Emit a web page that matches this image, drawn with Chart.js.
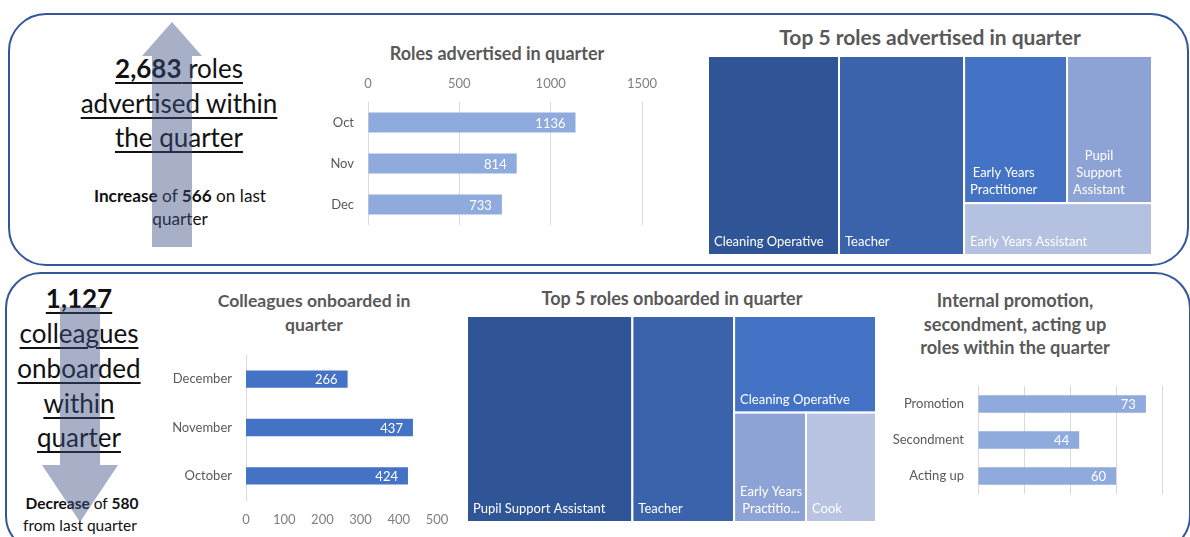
<!DOCTYPE html>
<html>
<head>
<meta charset="utf-8">
<script src="https://cdn.jsdelivr.net/npm/chart.js@4.4.1/dist/chart.umd.min.js"></script>
<style>
  html, body { margin: 0; padding: 0; background: #ffffff; }
  #page { position: relative; width: 1190px; height: 537px; overflow: hidden; font-family: 'Lato', 'Open Sans', sans-serif; }
  .panel { position: absolute; border: 2px solid #34579C; box-sizing: border-box; }
  .t { position: absolute; transform: translate(-50%, -50%); white-space: nowrap; color: #111; }
  .big { font-size: 26px; text-decoration: underline; text-decoration-thickness: 2px; text-underline-offset: 4px; }
  .ttl { font-weight: bold; color: #595959; }
  .box { position: absolute; }
  svg { position: absolute; left: 0; top: 0; }
</style>
</head>
<body>
<div id="page">
  <div class="panel" style="left:8px;top:13px;width:1181px;height:253px;border-radius:38px;"></div>
  <div class="panel" style="left:5px;top:272px;width:1186px;height:280px;border-radius:36px;"></div>

  <!-- top-left KPI -->
  <div class="t big" style="left:179px;top:68px;"><b>2,683</b> roles</div>
  <div class="t big" style="left:179px;top:103px;">advertised within</div>
  <div class="t big" style="left:179px;top:137px;">the quarter</div>
  <div class="t" style="left:180px;top:195px;font-size:17.2px;"><b>Increase</b> of <b>566</b> on last</div>
  <div class="t" style="left:180px;top:218px;font-size:17.2px;">quarter</div>

  <!-- bottom-left KPI -->
  <div class="t big" style="left:79px;top:298px;"><b>1,127</b></div>
  <div class="t big" style="left:79px;top:333px;">colleagues</div>
  <div class="t big" style="left:79px;top:368px;">onboarded</div>
  <div class="t big" style="left:79px;top:403px;">within</div>
  <div class="t big" style="left:79px;top:437px;">quarter</div>
  <div class="t" style="left:82px;top:503px;font-size:15.5px;"><b>Decrease</b> of <b>580</b></div>
  <div class="t" style="left:80px;top:525px;font-size:15.5px;">from last quarter</div>

  <!-- arrows (semi-transparent, over text) -->
  <svg width="1190" height="537">
    <polygon points="172,22 202,56 192,56 192,247 152,247 152,56 142,56" fill="rgba(60,80,130,0.45)"/>
    <polygon points="60,307 100,307 100,465 118,465 80,522 42,465 60,465" fill="rgba(60,80,130,0.45)"/>
  </svg>

  <!-- titles -->
  <div class="t ttl" style="left:497px;top:53px;font-size:18px;">Roles advertised in quarter</div>
  <div class="t ttl" style="left:930px;top:36px;font-size:21px;">Top 5 roles advertised in quarter</div>
  <div class="t ttl" style="left:314px;top:300px;font-size:17.6px;">Colleagues onboarded in</div>
  <div class="t ttl" style="left:314px;top:324px;font-size:17.6px;">quarter</div>
  <div class="t ttl" style="left:672px;top:298px;font-size:18px;">Top 5 roles onboarded in quarter</div>
  <div class="t ttl" style="left:1015px;top:300px;font-size:18.2px;">Internal promotion,</div>
  <div class="t ttl" style="left:1015px;top:324px;font-size:18.2px;">secondment, acting up</div>
  <div class="t ttl" style="left:1015px;top:347px;font-size:18.2px;">roles within the quarter</div>

  <div class="box" style="left:320px;top:70px;width:354px;height:160px;"><canvas id="c1"></canvas></div>
  <div class="box" style="left:706px;top:54px;width:448px;height:203px;"><canvas id="c2"></canvas></div>
  <div class="box" style="left:160px;top:345px;width:290px;height:192px;"><canvas id="c3"></canvas></div>
  <div class="box" style="left:465px;top:314px;width:413px;height:210px;"><canvas id="c4"></canvas></div>
  <div class="box" style="left:880px;top:376px;width:300px;height:129px;"><canvas id="c5"></canvas></div>
</div>

<script>
// ---- data ----
const advMonths = ['Oct', 'Nov', 'Dec'];
const advValues = [1136, 814, 733];
const advTicks = [0, 500, 1000, 1500];

const onbMonths = ['December', 'November', 'October'];
const onbValues = [266, 437, 424];
const onbTicks = [0, 100, 200, 300, 400, 500];

const intCats = ['Promotion', 'Secondment', 'Acting up'];
const intValues = [73, 44, 60];
const intTicks = [0, 20, 40, 60, 80];

const advRoles = ['Cleaning Operative', 'Teacher', 'Early Years Practitioner', 'Pupil Support Assistant', 'Early Years Assistant'];
const advRoleCounts = [265, 253, 154, 127, 99];
const advRoleColors = ['#2F5597', '#3A63AC', '#4472C4', '#8EA3D5', '#B5C1E1'];

const onbRoles = ['Pupil Support Assistant', 'Teacher', 'Cleaning Operative', 'Early Years Practitioner', 'Cook'];
const onbRoleCounts = [169, 104, 68, 39, 38];
const onbRoleColors = ['#2F5597', '#3A63AC', '#4472C4', '#8EA3D5', '#B9C3E2'];

const FONT = "'Lato', 'Open Sans', sans-serif";
Chart.defaults.font.family = FONT;
Chart.defaults.animation = false;

// value labels inside bar ends
const valueLabels = {
  id: 'valueLabels',
  afterDatasetsDraw(chart) {
    const ctx = chart.ctx;
    const meta = chart.getDatasetMeta(0);
    const data = chart.data.datasets[0].data;
    ctx.save();
    ctx.fillStyle = '#ffffff';
    ctx.font = '13px ' + FONT;
    ctx.textAlign = 'right';
    ctx.textBaseline = 'middle';
    meta.data.forEach((bar, i) => {
      ctx.fillText(String(data[i]), bar.x - 10, bar.y + 1);
    });
    ctx.restore();
  }
};

function noPad(s) { s.paddingTop = 0; s.paddingBottom = 0; s.paddingLeft = 0; s.paddingRight = 0; }

function hbar(id, labels, values, ticks, color, barPct, opts) {
  return new Chart(document.getElementById(id), {
    type: 'bar',
    data: { labels: labels, datasets: [{ data: values, backgroundColor: color, barPercentage: barPct, categoryPercentage: 1 }] },
    options: {
      indexAxis: 'y',
      responsive: true,
      maintainAspectRatio: false,
      layout: { padding: opts.padding },
      plugins: { legend: { display: false }, tooltip: { enabled: false } },
      scales: {
        x: {
          position: opts.xPos,
          min: ticks[0], max: ticks[ticks.length - 1],
          afterBuildTicks: s => { s.ticks = ticks.map(v => ({ value: v })); },
          ticks: { display: opts.xTicks, padding: opts.xPad, color: '#7F7F7F', font: { size: 13 }, callback: v => String(v) },
          grid: { display: opts.xGrid, color: '#D9D9D9', drawTicks: false },
          border: { display: false },
          afterFit: s => { s.height = opts.xH; noPad(s); }
        },
        y: {
          ticks: { padding: 14, color: '#595959', font: { size: 13 } },
          grid: { display: false, drawTicks: false },
          border: { display: opts.yBorder, color: '#D9D9D9' },
          afterFit: s => { s.width = opts.yW; noPad(s); }
        }
      }
    },
    plugins: [valueLabels]
  });
}

hbar('c1', advMonths, advValues, advTicks, '#8FAADC', 0.49,
  { padding: { left: 0, right: 32, top: 0, bottom: 5 }, xPos: 'top', xTicks: true, xGrid: true, xH: 32, xPad: 10, yW: 48, yBorder: false });
hbar('c3', onbMonths, onbValues, onbTicks, '#4472C4', 0.36,
  { padding: { left: 0, right: 13, top: 10, bottom: 0 }, xPos: 'bottom', xTicks: true, xGrid: false, xH: 37, xPad: 12, yW: 86, yBorder: true });
hbar('c5', intCats, intValues, intTicks, '#8FAADC', 0.49,
  { padding: { left: 0, right: 18, top: 10, bottom: 0 }, xPos: 'bottom', xTicks: false, xGrid: true, xH: 11, xPad: 12, yW: 98, yBorder: false });

// ---- treemap (squarified) drawn through the chart's linear scales ----
function worst(row, s) {
  const sum = row.reduce((a, b) => a + b, 0);
  const mx = Math.max(...row), mn = Math.min(...row);
  return Math.max(s * s * mx / (sum * sum), (sum * sum) / (s * s * mn));
}
function squarify(values, W, H) {
  const total = values.reduce((a, b) => a + b, 0);
  const areas = values.map(v => v * W * H / total);
  const rects = [];
  let x = 0, y = 0, w = W, h = H, i = 0;
  while (i < areas.length) {
    const s = Math.min(w, h);
    const row = [areas[i]];
    let j = i + 1;
    while (j < areas.length && worst(row.concat([areas[j]]), s) <= worst(row, s)) { row.push(areas[j]); j++; }
    const sum = row.reduce((a, b) => a + b, 0);
    if (w >= h) {
      const cw = sum / h; let cy = y;
      row.forEach(a => { const rh = a / cw; rects.push({ x: x, y: cy, w: cw, h: rh }); cy += rh; });
      x += cw; w -= cw;
    } else {
      const rh = sum / w; let cx = x;
      row.forEach(a => { const rw = a / rh; rects.push({ x: cx, y: y, w: rw, h: rh }); cx += rw; });
      y += rh; h -= rh;
    }
    i = j;
  }
  return rects;
}
function wrapLabel(ctx, text, maxW) {
  const words = text.split(' ');
  const lines = [];
  let cur = '';
  words.forEach(wd => {
    const test = cur ? cur + ' ' + wd : wd;
    if (ctx.measureText(test).width <= maxW || !cur) cur = test;
    else { lines.push(cur); cur = wd; }
  });
  if (cur) lines.push(cur);
  return lines.map(l => {
    if (ctx.measureText(l).width <= maxW) return l;
    let t = l;
    while (t.length > 1 && ctx.measureText(t + '...').width > maxW) t = t.slice(0, -1);
    return t + '...';
  });
}
const treemapPlugin = {
  id: 'treemap',
  afterDraw(chart, args, o) {
    const ctx = chart.ctx;
    const ca = chart.chartArea;
    const aspect = ca.width / ca.height;
    const xs = chart.scales.x, ys = chart.scales.y;
    const rects = squarify(o.values, aspect, 1);
    ctx.save();
    rects.forEach((r, i) => {
      const x0 = xs.getPixelForValue(r.x / aspect), x1 = xs.getPixelForValue((r.x + r.w) / aspect);
      const y0 = ys.getPixelForValue(r.y), y1 = ys.getPixelForValue(r.y + r.h);
      ctx.fillStyle = o.colors[i];
      ctx.fillRect(x0, y0, x1 - x0, y1 - y0);
      ctx.strokeStyle = '#ffffff';
      ctx.lineWidth = 2;
      ctx.strokeRect(x0, y0, x1 - x0, y1 - y0);
      ctx.font = '13px ' + FONT;
      const lines = wrapLabel(ctx, o.labels[i], (x1 - x0) - 9);
      const blockW = Math.max(...lines.map(l => ctx.measureText(l).width));
      const left = x0 + 6;
      ctx.fillStyle = '#ffffff';
      ctx.textAlign = 'center';
      ctx.textBaseline = 'middle';
      lines.forEach((l, k) => {
        const cy = y1 - 13 - (lines.length - 1 - k) * 17;
        ctx.fillText(l, left + blockW / 2, cy);
      });
    });
    ctx.restore();
  }
};
function treemap(id, labels, values, colors) {
  return new Chart(document.getElementById(id), {
    type: 'scatter',
    data: { datasets: [{ data: [] }] },
    options: {
      responsive: true,
      maintainAspectRatio: false,
      layout: { padding: 2 },
      plugins: { legend: { display: false }, tooltip: { enabled: false }, treemap: { labels: labels, values: values, colors: colors } },
      scales: {
        x: { type: 'linear', min: 0, max: 1, display: false },
        y: { type: 'linear', min: 0, max: 1, reverse: true, display: false }
      }
    },
    plugins: [treemapPlugin]
  });
}
treemap('c2', advRoles, advRoleCounts, advRoleColors);
treemap('c4', onbRoles, onbRoleCounts, onbRoleColors);
</script>
</body>
</html>
